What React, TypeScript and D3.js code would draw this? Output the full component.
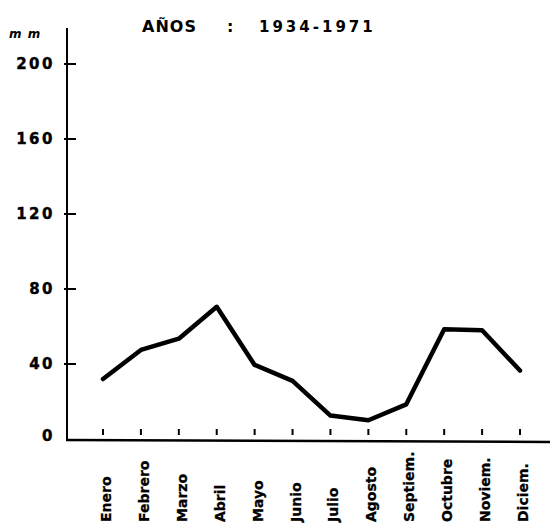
import React from "react";
import * as d3 from "d3";

const months = ["Enero","Febrero","Marzo","Abril","Mayo","Junio","Julio","Agosto","Septiem.","Octubre","Noviem.","Diciem."];
const values = [32, 47.5, 53.5, 70.5, 39.5, 31, 12.5, 10, 18.5, 58.5, 58, 36.5];
const yTicks = [0, 40, 80, 120, 160, 200];
const yTickLabels = ["0", "40", "80", "120", "160", "200"];

export default function App() {
  const W = 550, H = 526;
  const x = d3.scalePoint<string>().domain(months).range([103, 520]);
  const y = d3.scaleLinear().domain([0, 200]).range([439, 64]);
  const line = d3.line<number>().x((_, i) => x(months[i])!).y(d => y(d)).curve(d3.curveLinear);
  const font = "'DejaVu Sans', 'Liberation Sans', sans-serif";
  return (
    <svg width={W} height={H} style={{ position: "absolute", left: 0, top: 0, background: "#fff" }}>
      <text x={9} y={38} fontFamily={font} fontWeight="bold" fontStyle="italic" fontSize={12} letterSpacing={1}>m m</text>
      <text x={142} y={32} fontFamily={font} fontWeight="bold" fontSize={16} letterSpacing={1}>AÑOS</text>
      <text x={227} y={32} fontFamily={font} fontWeight="bold" fontSize={16}>:</text>
      <text x={259} y={32} fontFamily={font} fontWeight="bold" fontSize={15} letterSpacing={3}>1934-1971</text>
      {/* axes */}
      <line x1={67} y1={28} x2={67} y2={441} stroke="#000" strokeWidth={2} />
      <line x1={66} y1={440} x2={550} y2={442} stroke="#000" strokeWidth={2.5} />
      {yTicks.map((t, i) => (
        <g key={t}>
          <line x1={t === 0 ? 67 : 64} x2={t === 0 ? 67 : 76} y1={y(t)} y2={y(t)} stroke="#000" strokeWidth={2} />
          <text x={55} y={y(t) - (t === 0 ? 3 : 0)} dy="0.35em" textAnchor="end" fontFamily={font} fontWeight="bold" fontSize={15} letterSpacing={2.5} stroke="#000" strokeWidth={0.4}>{yTickLabels[i]}</text>
        </g>
      ))}
      {months.map(m => (
        <g key={m}>
          <line x1={x(m)!} x2={x(m)!} y1={429} y2={435} stroke="#000" strokeWidth={2} />
          <text transform={`translate(${x(m)! + 8},522) rotate(-90)`} textAnchor="start" fontFamily={font} fontWeight="bold" fontSize={14} stroke="#000" strokeWidth={0.3}>{m}</text>
        </g>
      ))}
      <path d={line(values)!} fill="none" stroke="#000" strokeWidth={4.5} strokeLinejoin="round" strokeLinecap="round" />
    </svg>
  );
}
